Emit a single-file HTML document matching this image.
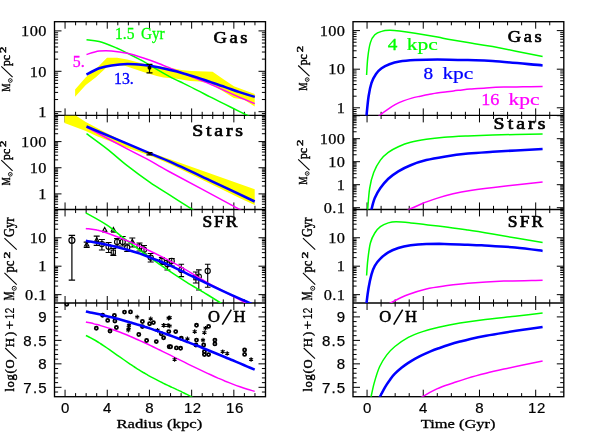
<!DOCTYPE html>
<html><head><meta charset="utf-8"><title>Chart</title>
<style>html,body{margin:0;padding:0;background:#fff}svg{display:block;will-change:transform}</style></head>
<body>
<svg width="598" height="447" viewBox="0 0 598 447">
<rect width="598" height="447" fill="#fff"/>
<defs>
<clipPath id="cL0"><rect x="54.5" y="21.7" width="211.0" height="93.7"/></clipPath>
<clipPath id="cL1"><rect x="54.5" y="115.4" width="211.0" height="94.04999999999998"/></clipPath>
<clipPath id="cL2"><rect x="54.5" y="209.45" width="211.0" height="93.55000000000001"/></clipPath>
<clipPath id="cL3"><rect x="54.5" y="303.0" width="211.0" height="93.69999999999999"/></clipPath>
<clipPath id="cR0"><rect x="353.0" y="21.7" width="210.79999999999995" height="93.7"/></clipPath>
<clipPath id="cR1"><rect x="353.0" y="115.4" width="210.79999999999995" height="94.04999999999998"/></clipPath>
<clipPath id="cR2"><rect x="353.0" y="209.45" width="210.79999999999995" height="93.55000000000001"/></clipPath>
<clipPath id="cR3"><rect x="353.0" y="303.0" width="210.79999999999995" height="93.69999999999999"/></clipPath>
</defs>
<path d="M54.5,111.70h7.0M265.5,111.70h-7.0M54.5,71.30h7.0M265.5,71.30h-7.0M54.5,30.90h7.0M265.5,30.90h-7.0M54.5,113.55h3.6M265.5,113.55h-3.6M54.5,99.54h3.6M265.5,99.54h-3.6M54.5,92.42h3.6M265.5,92.42h-3.6M54.5,87.38h3.6M265.5,87.38h-3.6M54.5,83.46h3.6M265.5,83.46h-3.6M54.5,80.26h3.6M265.5,80.26h-3.6M54.5,77.56h3.6M265.5,77.56h-3.6M54.5,75.22h3.6M265.5,75.22h-3.6M54.5,73.15h3.6M265.5,73.15h-3.6M54.5,59.14h3.6M265.5,59.14h-3.6M54.5,52.02h3.6M265.5,52.02h-3.6M54.5,46.98h3.6M265.5,46.98h-3.6M54.5,43.06h3.6M265.5,43.06h-3.6M54.5,39.86h3.6M265.5,39.86h-3.6M54.5,37.16h3.6M265.5,37.16h-3.6M54.5,34.82h3.6M265.5,34.82h-3.6M54.5,32.75h3.6M265.5,32.75h-3.6M54.5,193.90h7.0M265.5,193.90h-7.0M54.5,167.75h7.0M265.5,167.75h-7.0M54.5,141.60h7.0M265.5,141.60h-7.0M54.5,115.45h7.0M265.5,115.45h-7.0M54.5,207.57h3.6M265.5,207.57h-3.6M54.5,204.31h3.6M265.5,204.31h-3.6M54.5,201.77h3.6M265.5,201.77h-3.6M54.5,199.70h3.6M265.5,199.70h-3.6M54.5,197.95h3.6M265.5,197.95h-3.6M54.5,196.43h3.6M265.5,196.43h-3.6M54.5,195.10h3.6M265.5,195.10h-3.6M54.5,186.03h3.6M265.5,186.03h-3.6M54.5,181.42h3.6M265.5,181.42h-3.6M54.5,178.16h3.6M265.5,178.16h-3.6M54.5,175.62h3.6M265.5,175.62h-3.6M54.5,173.55h3.6M265.5,173.55h-3.6M54.5,171.80h3.6M265.5,171.80h-3.6M54.5,170.28h3.6M265.5,170.28h-3.6M54.5,168.95h3.6M265.5,168.95h-3.6M54.5,159.88h3.6M265.5,159.88h-3.6M54.5,155.27h3.6M265.5,155.27h-3.6M54.5,152.01h3.6M265.5,152.01h-3.6M54.5,149.47h3.6M265.5,149.47h-3.6M54.5,147.40h3.6M265.5,147.40h-3.6M54.5,145.65h3.6M265.5,145.65h-3.6M54.5,144.13h3.6M265.5,144.13h-3.6M54.5,142.80h3.6M265.5,142.80h-3.6M54.5,133.73h3.6M265.5,133.73h-3.6M54.5,129.12h3.6M265.5,129.12h-3.6M54.5,125.86h3.6M265.5,125.86h-3.6M54.5,123.32h3.6M265.5,123.32h-3.6M54.5,121.25h3.6M265.5,121.25h-3.6M54.5,119.50h3.6M265.5,119.50h-3.6M54.5,117.98h3.6M265.5,117.98h-3.6M54.5,116.65h3.6M265.5,116.65h-3.6M54.5,294.65h7.0M265.5,294.65h-7.0M54.5,266.20h7.0M265.5,266.20h-7.0M54.5,237.75h7.0M265.5,237.75h-7.0M54.5,300.96h3.6M265.5,300.96h-3.6M54.5,299.06h3.6M265.5,299.06h-3.6M54.5,297.41h3.6M265.5,297.41h-3.6M54.5,295.95h3.6M265.5,295.95h-3.6M54.5,286.09h3.6M265.5,286.09h-3.6M54.5,281.08h3.6M265.5,281.08h-3.6M54.5,277.52h3.6M265.5,277.52h-3.6M54.5,274.76h3.6M265.5,274.76h-3.6M54.5,272.51h3.6M265.5,272.51h-3.6M54.5,270.61h3.6M265.5,270.61h-3.6M54.5,268.96h3.6M265.5,268.96h-3.6M54.5,267.50h3.6M265.5,267.50h-3.6M54.5,257.64h3.6M265.5,257.64h-3.6M54.5,252.63h3.6M265.5,252.63h-3.6M54.5,249.07h3.6M265.5,249.07h-3.6M54.5,246.31h3.6M265.5,246.31h-3.6M54.5,244.06h3.6M265.5,244.06h-3.6M54.5,242.16h3.6M265.5,242.16h-3.6M54.5,240.51h3.6M265.5,240.51h-3.6M54.5,239.05h3.6M265.5,239.05h-3.6M54.5,229.19h3.6M265.5,229.19h-3.6M54.5,224.18h3.6M265.5,224.18h-3.6M54.5,220.62h3.6M265.5,220.62h-3.6M54.5,217.86h3.6M265.5,217.86h-3.6M54.5,215.61h3.6M265.5,215.61h-3.6M54.5,213.71h3.6M265.5,213.71h-3.6M54.5,212.06h3.6M265.5,212.06h-3.6M54.5,210.60h3.6M265.5,210.60h-3.6M54.5,387.32h7.0M265.5,387.32h-7.0M54.5,363.85h7.0M265.5,363.85h-7.0M54.5,340.38h7.0M265.5,340.38h-7.0M54.5,316.90h7.0M265.5,316.90h-7.0M54.5,392.02h3.6M265.5,392.02h-3.6M54.5,382.63h3.6M265.5,382.63h-3.6M54.5,377.93h3.6M265.5,377.93h-3.6M54.5,373.24h3.6M265.5,373.24h-3.6M54.5,368.54h3.6M265.5,368.54h-3.6M54.5,359.15h3.6M265.5,359.15h-3.6M54.5,354.46h3.6M265.5,354.46h-3.6M54.5,349.76h3.6M265.5,349.76h-3.6M54.5,345.07h3.6M265.5,345.07h-3.6M54.5,335.68h3.6M265.5,335.68h-3.6M54.5,330.99h3.6M265.5,330.99h-3.6M54.5,326.29h3.6M265.5,326.29h-3.6M54.5,321.59h3.6M265.5,321.59h-3.6M54.5,312.20h3.6M265.5,312.20h-3.6M54.5,307.51h3.6M265.5,307.51h-3.6M353.0,107.80h7.0M563.8,107.80h-7.0M353.0,69.20h7.0M563.8,69.20h-7.0M353.0,30.60h7.0M563.8,30.60h-7.0M353.0,113.78h3.6M563.8,113.78h-3.6M353.0,111.54h3.6M563.8,111.54h-3.6M353.0,109.57h3.6M563.8,109.57h-3.6M353.0,96.18h3.6M563.8,96.18h-3.6M353.0,89.38h3.6M563.8,89.38h-3.6M353.0,84.56h3.6M563.8,84.56h-3.6M353.0,80.82h3.6M563.8,80.82h-3.6M353.0,77.76h3.6M563.8,77.76h-3.6M353.0,75.18h3.6M563.8,75.18h-3.6M353.0,72.94h3.6M563.8,72.94h-3.6M353.0,70.97h3.6M563.8,70.97h-3.6M353.0,57.58h3.6M563.8,57.58h-3.6M353.0,50.78h3.6M563.8,50.78h-3.6M353.0,45.96h3.6M563.8,45.96h-3.6M353.0,42.22h3.6M563.8,42.22h-3.6M353.0,39.16h3.6M563.8,39.16h-3.6M353.0,36.58h3.6M563.8,36.58h-3.6M353.0,34.34h3.6M563.8,34.34h-3.6M353.0,32.37h3.6M563.8,32.37h-3.6M353.0,207.70h7.0M563.8,207.70h-7.0M353.0,184.70h7.0M563.8,184.70h-7.0M353.0,161.70h7.0M563.8,161.70h-7.0M353.0,138.70h7.0M563.8,138.70h-7.0M353.0,115.70h7.0M563.8,115.70h-7.0M353.0,208.75h3.6M563.8,208.75h-3.6M353.0,200.78h3.6M563.8,200.78h-3.6M353.0,196.73h3.6M563.8,196.73h-3.6M353.0,193.85h3.6M563.8,193.85h-3.6M353.0,191.62h3.6M563.8,191.62h-3.6M353.0,189.80h3.6M563.8,189.80h-3.6M353.0,188.26h3.6M563.8,188.26h-3.6M353.0,186.93h3.6M563.8,186.93h-3.6M353.0,185.75h3.6M563.8,185.75h-3.6M353.0,177.78h3.6M563.8,177.78h-3.6M353.0,173.73h3.6M563.8,173.73h-3.6M353.0,170.85h3.6M563.8,170.85h-3.6M353.0,168.62h3.6M563.8,168.62h-3.6M353.0,166.80h3.6M563.8,166.80h-3.6M353.0,165.26h3.6M563.8,165.26h-3.6M353.0,163.93h3.6M563.8,163.93h-3.6M353.0,162.75h3.6M563.8,162.75h-3.6M353.0,154.78h3.6M563.8,154.78h-3.6M353.0,150.73h3.6M563.8,150.73h-3.6M353.0,147.85h3.6M563.8,147.85h-3.6M353.0,145.62h3.6M563.8,145.62h-3.6M353.0,143.80h3.6M563.8,143.80h-3.6M353.0,142.26h3.6M563.8,142.26h-3.6M353.0,140.93h3.6M563.8,140.93h-3.6M353.0,139.75h3.6M563.8,139.75h-3.6M353.0,131.78h3.6M563.8,131.78h-3.6M353.0,127.73h3.6M563.8,127.73h-3.6M353.0,124.85h3.6M563.8,124.85h-3.6M353.0,122.62h3.6M563.8,122.62h-3.6M353.0,120.80h3.6M563.8,120.80h-3.6M353.0,119.26h3.6M563.8,119.26h-3.6M353.0,117.93h3.6M563.8,117.93h-3.6M353.0,116.75h3.6M563.8,116.75h-3.6M353.0,294.65h7.0M563.8,294.65h-7.0M353.0,266.20h7.0M563.8,266.20h-7.0M353.0,237.75h7.0M563.8,237.75h-7.0M353.0,300.96h3.6M563.8,300.96h-3.6M353.0,299.06h3.6M563.8,299.06h-3.6M353.0,297.41h3.6M563.8,297.41h-3.6M353.0,295.95h3.6M563.8,295.95h-3.6M353.0,286.09h3.6M563.8,286.09h-3.6M353.0,281.08h3.6M563.8,281.08h-3.6M353.0,277.52h3.6M563.8,277.52h-3.6M353.0,274.76h3.6M563.8,274.76h-3.6M353.0,272.51h3.6M563.8,272.51h-3.6M353.0,270.61h3.6M563.8,270.61h-3.6M353.0,268.96h3.6M563.8,268.96h-3.6M353.0,267.50h3.6M563.8,267.50h-3.6M353.0,257.64h3.6M563.8,257.64h-3.6M353.0,252.63h3.6M563.8,252.63h-3.6M353.0,249.07h3.6M563.8,249.07h-3.6M353.0,246.31h3.6M563.8,246.31h-3.6M353.0,244.06h3.6M563.8,244.06h-3.6M353.0,242.16h3.6M563.8,242.16h-3.6M353.0,240.51h3.6M563.8,240.51h-3.6M353.0,239.05h3.6M563.8,239.05h-3.6M353.0,229.19h3.6M563.8,229.19h-3.6M353.0,224.18h3.6M563.8,224.18h-3.6M353.0,220.62h3.6M563.8,220.62h-3.6M353.0,217.86h3.6M563.8,217.86h-3.6M353.0,215.61h3.6M563.8,215.61h-3.6M353.0,213.71h3.6M563.8,213.71h-3.6M353.0,212.06h3.6M563.8,212.06h-3.6M353.0,210.60h3.6M563.8,210.60h-3.6M353.0,387.32h7.0M563.8,387.32h-7.0M353.0,363.85h7.0M563.8,363.85h-7.0M353.0,340.38h7.0M563.8,340.38h-7.0M353.0,316.90h7.0M563.8,316.90h-7.0M353.0,392.02h3.6M563.8,392.02h-3.6M353.0,382.63h3.6M563.8,382.63h-3.6M353.0,377.93h3.6M563.8,377.93h-3.6M353.0,373.24h3.6M563.8,373.24h-3.6M353.0,368.54h3.6M563.8,368.54h-3.6M353.0,359.15h3.6M563.8,359.15h-3.6M353.0,354.46h3.6M563.8,354.46h-3.6M353.0,349.76h3.6M563.8,349.76h-3.6M353.0,345.07h3.6M563.8,345.07h-3.6M353.0,335.68h3.6M563.8,335.68h-3.6M353.0,330.99h3.6M563.8,330.99h-3.6M353.0,326.29h3.6M563.8,326.29h-3.6M353.0,321.59h3.6M563.8,321.59h-3.6M353.0,312.20h3.6M563.8,312.20h-3.6M353.0,307.51h3.6M563.8,307.51h-3.6M65.05,21.7v7.0M65.05,108.4v14.0M65.05,202.45v14.0M65.05,296.0v14.0M65.05,396.7v-7.0M75.60,21.7v3.6M75.60,111.80000000000001v7.2M75.60,205.85v7.2M75.60,299.4v7.2M75.60,396.7v-3.6M86.15,21.7v3.6M86.15,111.80000000000001v7.2M86.15,205.85v7.2M86.15,299.4v7.2M86.15,396.7v-3.6M96.70,21.7v3.6M96.70,111.80000000000001v7.2M96.70,205.85v7.2M96.70,299.4v7.2M96.70,396.7v-3.6M107.25,21.7v7.0M107.25,108.4v14.0M107.25,202.45v14.0M107.25,296.0v14.0M107.25,396.7v-7.0M117.80,21.7v3.6M117.80,111.80000000000001v7.2M117.80,205.85v7.2M117.80,299.4v7.2M117.80,396.7v-3.6M128.35,21.7v3.6M128.35,111.80000000000001v7.2M128.35,205.85v7.2M128.35,299.4v7.2M128.35,396.7v-3.6M138.90,21.7v3.6M138.90,111.80000000000001v7.2M138.90,205.85v7.2M138.90,299.4v7.2M138.90,396.7v-3.6M149.45,21.7v7.0M149.45,108.4v14.0M149.45,202.45v14.0M149.45,296.0v14.0M149.45,396.7v-7.0M160.00,21.7v3.6M160.00,111.80000000000001v7.2M160.00,205.85v7.2M160.00,299.4v7.2M160.00,396.7v-3.6M170.55,21.7v3.6M170.55,111.80000000000001v7.2M170.55,205.85v7.2M170.55,299.4v7.2M170.55,396.7v-3.6M181.10,21.7v3.6M181.10,111.80000000000001v7.2M181.10,205.85v7.2M181.10,299.4v7.2M181.10,396.7v-3.6M191.65,21.7v7.0M191.65,108.4v14.0M191.65,202.45v14.0M191.65,296.0v14.0M191.65,396.7v-7.0M202.20,21.7v3.6M202.20,111.80000000000001v7.2M202.20,205.85v7.2M202.20,299.4v7.2M202.20,396.7v-3.6M212.75,21.7v3.6M212.75,111.80000000000001v7.2M212.75,205.85v7.2M212.75,299.4v7.2M212.75,396.7v-3.6M223.30,21.7v3.6M223.30,111.80000000000001v7.2M223.30,205.85v7.2M223.30,299.4v7.2M223.30,396.7v-3.6M233.85,21.7v7.0M233.85,108.4v14.0M233.85,202.45v14.0M233.85,296.0v14.0M233.85,396.7v-7.0M244.40,21.7v3.6M244.40,111.80000000000001v7.2M244.40,205.85v7.2M244.40,299.4v7.2M244.40,396.7v-3.6M254.95,21.7v3.6M254.95,111.80000000000001v7.2M254.95,205.85v7.2M254.95,299.4v7.2M254.95,396.7v-3.6M367.05,21.7v7.0M367.05,108.4v14.0M367.05,202.45v14.0M367.05,296.0v14.0M367.05,396.7v-7.0M381.10,21.7v3.6M381.10,111.80000000000001v7.2M381.10,205.85v7.2M381.10,299.4v7.2M381.10,396.7v-3.6M395.16,21.7v3.6M395.16,111.80000000000001v7.2M395.16,205.85v7.2M395.16,299.4v7.2M395.16,396.7v-3.6M409.21,21.7v3.6M409.21,111.80000000000001v7.2M409.21,205.85v7.2M409.21,299.4v7.2M409.21,396.7v-3.6M423.26,21.7v7.0M423.26,108.4v14.0M423.26,202.45v14.0M423.26,296.0v14.0M423.26,396.7v-7.0M437.31,21.7v3.6M437.31,111.80000000000001v7.2M437.31,205.85v7.2M437.31,299.4v7.2M437.31,396.7v-3.6M451.37,21.7v3.6M451.37,111.80000000000001v7.2M451.37,205.85v7.2M451.37,299.4v7.2M451.37,396.7v-3.6M465.42,21.7v3.6M465.42,111.80000000000001v7.2M465.42,205.85v7.2M465.42,299.4v7.2M465.42,396.7v-3.6M479.47,21.7v7.0M479.47,108.4v14.0M479.47,202.45v14.0M479.47,296.0v14.0M479.47,396.7v-7.0M493.53,21.7v3.6M493.53,111.80000000000001v7.2M493.53,205.85v7.2M493.53,299.4v7.2M493.53,396.7v-3.6M507.58,21.7v3.6M507.58,111.80000000000001v7.2M507.58,205.85v7.2M507.58,299.4v7.2M507.58,396.7v-3.6M521.63,21.7v3.6M521.63,111.80000000000001v7.2M521.63,205.85v7.2M521.63,299.4v7.2M521.63,396.7v-3.6M535.69,21.7v7.0M535.69,108.4v14.0M535.69,202.45v14.0M535.69,296.0v14.0M535.69,396.7v-7.0M549.74,21.7v3.6M549.74,111.80000000000001v7.2M549.74,205.85v7.2M549.74,299.4v7.2M549.74,396.7v-3.6" stroke="#000" stroke-width="1.0" fill="none"/>
<rect x="54.5" y="21.7" width="211.0" height="375.0" fill="none" stroke="#000" stroke-width="1.35"/>
<path d="M54.5,115.4H265.5" stroke="#000" stroke-width="1.35"/>
<path d="M54.5,209.45H265.5" stroke="#000" stroke-width="1.35"/>
<path d="M54.5,303.0H265.5" stroke="#000" stroke-width="1.35"/>
<rect x="353.0" y="21.7" width="210.79999999999995" height="375.0" fill="none" stroke="#000" stroke-width="1.35"/>
<path d="M353.0,115.4H563.8" stroke="#000" stroke-width="1.35"/>
<path d="M353.0,209.45H563.8" stroke="#000" stroke-width="1.35"/>
<path d="M353.0,303.0H563.8" stroke="#000" stroke-width="1.35"/>
<polygon points="75.1,89.6 85.8,77.3 95.9,69.0 107.0,57.8 117.1,57.8 127.2,59.4 139.5,62.7 149.6,65.0 160.0,66.5 170.1,67.7 181.3,69.9 191.4,71.0 212.6,71.7 223.8,79.5 233.9,86.2 254.7,94.1 254.7,106.4 244.0,99.7 233.9,98.1 223.8,91.8 212.6,85.1 210.0,83.4 199.6,81.4 190.2,81.0 176.8,78.8 163.4,77.4 156.8,76.0 143.4,72.0 130.0,67.4 124.0,65.5 117.0,65.5 107.0,67.0 95.9,77.3 85.8,85.1 75.1,96.7" fill="#ffff00" clip-path="url(#cL0)"/>
<path d="M86.5,39.7 C88.6,40.0 94.1,40.1 99.2,41.5 C104.3,42.9 112.4,46.3 117.1,48.2 C121.8,50.1 123.5,51.2 127.2,53.1 C130.9,55.0 136.8,58.0 139.5,59.4 C142.2,60.8 140.5,59.7 143.4,61.4 C146.3,63.1 152.4,66.8 156.8,69.4 C161.2,72.0 165.7,74.5 170.1,76.8 C174.5,79.1 179.0,81.2 183.5,83.4 C188.0,85.6 192.5,87.8 196.9,90.1 C201.3,92.3 205.4,94.5 210.1,96.9 C214.8,99.3 220.2,101.9 225.2,104.4 C230.2,106.9 236.1,109.9 240.2,111.9 C244.3,113.9 248.1,115.7 249.7,116.4" fill="none" stroke="#00ff00" stroke-width="1.5" stroke-linejoin="round" clip-path="url(#cL0)"/>
<path d="M86.5,54.5 C88.6,53.9 95.0,51.7 99.2,51.1 C103.4,50.5 106.8,50.5 111.5,50.9 C116.2,51.3 121.9,52.1 127.2,53.3 C132.5,54.5 138.5,56.4 143.4,58.0 C148.3,59.6 152.4,61.0 156.8,62.7 C161.2,64.4 165.7,66.3 170.1,68.1 C174.5,69.9 179.0,71.6 183.5,73.4 C188.0,75.2 192.5,77.0 196.9,78.8 C201.3,80.6 205.4,82.1 210.1,84.1 C214.8,86.1 220.2,88.7 225.2,90.9 C230.2,93.2 235.3,95.5 240.2,97.6 C245.1,99.7 252.4,102.6 254.8,103.6" fill="none" stroke="#ff00ff" stroke-width="1.5" stroke-linejoin="round" clip-path="url(#cL0)"/>
<path d="M86.5,74.6 C88.6,73.5 95.0,69.8 99.2,68.3 C103.4,66.8 106.8,66.1 111.5,65.4 C116.2,64.7 121.9,64.1 127.2,64.0 C132.5,63.9 138.5,64.5 143.4,65.0 C148.3,65.5 152.4,66.2 156.8,67.1 C161.2,67.9 165.7,69.0 170.1,70.1 C174.5,71.1 179.0,72.2 183.5,73.4 C188.0,74.6 192.5,76.0 196.9,77.4 C201.3,78.8 205.4,80.3 210.1,81.9 C214.8,83.5 220.2,85.3 225.2,87.1 C230.2,88.8 235.3,90.8 240.2,92.4 C245.1,94.0 252.4,96.2 254.8,96.9" fill="none" stroke="#0000ff" stroke-width="2.55" stroke-linejoin="round" clip-path="url(#cL0)"/>
<g stroke="#000" stroke-width="1.2" fill="none"><path d="M149.5,64.3V72.8M146.5,64.3h6M146.5,72.8h6"/></g><circle cx="149.5" cy="67.8" r="2" fill="#000"/>
<polygon points="64.5,115.4 75.7,115.4 85.8,122.1 107.0,133.3 127.2,143.3 149.6,152.3 170.0,159.3 254.7,189.2 254.7,205.0 239.5,198.1 169.9,163.9 149.6,155.6 127.2,147.8 97.0,136.2 85.8,131.0 64.5,122.9" fill="#ffff00" clip-path="url(#cL1)"/>
<path d="M86.5,133.7 C89.9,136.2 100.2,143.6 107.0,148.9 C113.8,154.2 120.1,160.1 127.2,165.7 C134.3,171.2 142.5,177.3 149.6,182.2 C156.7,187.1 162.8,190.7 169.9,195.2 C177.0,199.7 186.9,206.1 191.9,209.2 C196.9,212.3 198.7,213.2 200.0,214.0" fill="none" stroke="#00ff00" stroke-width="1.5" stroke-linejoin="round" clip-path="url(#cL1)"/>
<path d="M86.5,127.2 C93.3,130.8 116.6,143.3 127.2,148.9 C137.8,154.5 142.9,156.8 150.0,160.6 C157.1,164.4 155.0,163.9 169.9,172.0 C184.8,180.1 227.0,202.6 239.5,209.3 C252.0,216.0 244.1,211.8 245.0,212.3" fill="none" stroke="#ff00ff" stroke-width="1.5" stroke-linejoin="round" clip-path="url(#cL1)"/>
<path d="M86.5,126.5 C97.1,131.0 136.1,147.5 150.0,153.4 C163.9,159.3 159.6,157.0 169.9,161.7 C180.2,166.3 197.9,174.7 212.0,181.3 C226.1,187.9 247.6,198.1 254.7,201.5" fill="none" stroke="#0000ff" stroke-width="2.55" stroke-linejoin="round" clip-path="url(#cL1)"/>
<g stroke="#000" stroke-width="1.2" fill="none"><path d="M146.5,152.6h6M146.5,154.8h6M149.5,152.6v2.2"/></g><circle cx="149.5" cy="153.6" r="1.3" fill="#000"/>
<path d="M71.9,235.3V280.2M68.7,235.3h6.4M68.7,280.2h6.4" stroke="#000" stroke-width="1.2" fill="none"/>
<circle cx="71.9" cy="240.3" r="3.0" fill="none" stroke="#000" stroke-width="1.2"/>
<path d="M86.7,242.20000000000002L88.8,245.98000000000002H84.60000000000001Z" fill="none" stroke="#000" stroke-width="1.1"/>
<path d="M86.7,242.1V247.4M83.7,242.1h6M83.7,247.4h6" stroke="#000" stroke-width="1.1" fill="none"/>
<path d="M96.7,237.6L98.8,241.38H94.60000000000001Z" fill="none" stroke="#000" stroke-width="1.1"/>
<path d="M96.7,236.1V245.4M93.7,236.1h6M93.7,245.4h6" stroke="#000" stroke-width="1.1" fill="none"/>
<path d="M104.7,227.5L106.8,231.28H102.60000000000001Z" fill="none" stroke="#000" stroke-width="1.1"/>
<path d="M113.4,227.5L115.5,231.28H111.30000000000001Z" fill="none" stroke="#000" stroke-width="1.1"/>
<path d="M102.2,232h5M111,232.2h5" stroke="#000" stroke-width="1"/>
<circle cx="101.9" cy="244.1" r="2.6" fill="none" stroke="#000" stroke-width="1.1"/>
<path d="M101.9,239.5V250M98.9,239.5h6M98.9,250h6" stroke="#000" stroke-width="1.1" fill="none"/>
<circle cx="108.6" cy="246.8" r="2.6" fill="none" stroke="#000" stroke-width="1.1"/>
<path d="M108.6,242.5V252.5M105.6,242.5h6M105.6,252.5h6" stroke="#000" stroke-width="1.1" fill="none"/>
<rect x="111.2" y="250.1" width="4.2" height="4.2" fill="none" stroke="#000" stroke-width="1.1"/>
<path d="M113.3,248.5V255.5M110.3,248.5h6M110.3,255.5h6" stroke="#000" stroke-width="1.1" fill="none"/>
<circle cx="117.1" cy="241.9" r="2.6" fill="none" stroke="#000" stroke-width="1.1"/>
<path d="M117.1,238.5V246M114.1,238.5h6M114.1,246h6" stroke="#000" stroke-width="1.1" fill="none"/>
<circle cx="122.7" cy="241.9" r="2.6" fill="none" stroke="#000" stroke-width="1.1"/>
<path d="M122.7,236.5V246M119.7,236.5h6M119.7,246h6" stroke="#000" stroke-width="1.1" fill="none"/>
<circle cx="127.2" cy="247.5" r="2.6" fill="none" stroke="#000" stroke-width="1.1"/>
<path d="M127.2,244V251.5M124.2,244h6M124.2,251.5h6" stroke="#000" stroke-width="1.1" fill="none"/>
<path d="M132.3,239.3L134.4,243.08H130.20000000000002Z" fill="none" stroke="#000" stroke-width="1.1"/>
<path d="M132.3,238V247M129.3,238h6M129.3,247h6" stroke="#000" stroke-width="1.1" fill="none"/>
<circle cx="139.5" cy="246.4" r="2.6" fill="none" stroke="#000" stroke-width="1.1"/>
<path d="M139.5,243V251M136.5,243h6M136.5,251h6" stroke="#000" stroke-width="1.1" fill="none"/>
<circle cx="144" cy="249.7" r="2.6" fill="none" stroke="#000" stroke-width="1.1"/>
<path d="M144,245.5V254M141,245.5h6M141,254h6" stroke="#000" stroke-width="1.1" fill="none"/>
<circle cx="150.7" cy="257.6" r="2.6" fill="none" stroke="#000" stroke-width="1.1"/>
<path d="M150.7,253.5V262M147.7,253.5h6M147.7,262h6" stroke="#000" stroke-width="1.1" fill="none"/>
<circle cx="161.9" cy="260.9" r="2.6" fill="none" stroke="#000" stroke-width="1.1"/>
<path d="M161.9,257.5V264.5M158.9,257.5h6M158.9,264.5h6" stroke="#000" stroke-width="1.1" fill="none"/>
<circle cx="167.4" cy="264.3" r="2.6" fill="none" stroke="#000" stroke-width="1.1"/>
<path d="M167.4,260.5V270M164.4,260.5h6M164.4,270h6" stroke="#000" stroke-width="1.1" fill="none"/>
<circle cx="171.7" cy="260.9" r="2.6" fill="none" stroke="#000" stroke-width="1.1"/>
<path d="M171.7,258.5V266M168.7,258.5h6M168.7,266h6" stroke="#000" stroke-width="1.1" fill="none"/>
<circle cx="181.3" cy="269.9" r="2.6" fill="none" stroke="#000" stroke-width="1.1"/>
<path d="M181.3,264.3V276.6M178.5,264.3h5.6M178.5,276.6h5.6" stroke="#000" stroke-width="1.1" fill="none"/>
<rect x="193.8" y="275.59999999999997" width="4.2" height="4.2" fill="none" stroke="#000" stroke-width="1.1"/>
<path d="M195.9,272V283M192.9,272h6M192.9,283h6" stroke="#000" stroke-width="1.1" fill="none"/>
<circle cx="198.8" cy="276.6" r="2.6" fill="none" stroke="#000" stroke-width="1.1"/>
<path d="M198.8,269.9V290M196.0,269.9h5.6M196.0,290h5.6" stroke="#000" stroke-width="1.1" fill="none"/>
<circle cx="207.7" cy="271" r="2.6" fill="none" stroke="#000" stroke-width="1.1"/>
<path d="M207.7,264.3V287.3M204.89999999999998,264.3h5.6M204.89999999999998,287.3h5.6" stroke="#000" stroke-width="1.1" fill="none"/>
<path d="M85.8,212.8 C89.3,214.9 100.1,220.4 107.0,225.1 C113.9,229.8 120.0,235.4 127.2,240.8 C134.4,246.2 143.1,252.6 150.0,257.5 C156.9,262.4 162.3,266.3 168.4,270.4 C174.5,274.5 180.7,278.5 186.8,282.3 C192.9,286.1 199.7,289.9 205.2,293.3 C210.7,296.7 216.6,300.4 219.9,302.5 C223.2,304.6 224.2,305.1 225.0,305.6" fill="none" stroke="#00ff00" stroke-width="1.5" stroke-linejoin="round" clip-path="url(#cL2)"/>
<path d="M85.8,228.5 C87.7,228.8 93.5,229.3 97.0,230.1 C100.5,230.8 102.0,231.2 107.0,233.0 C112.0,234.8 120.0,237.8 127.2,240.8 C134.4,243.8 143.1,247.8 150.0,251.0 C156.9,254.2 162.3,257.0 168.4,260.2 C174.5,263.4 180.7,266.9 186.8,270.4 C192.9,273.9 198.8,277.8 205.2,281.4 C211.6,285.0 218.2,288.4 225.0,292.0 C231.8,295.6 241.4,300.6 245.7,302.9 C250.0,305.2 250.1,305.2 251.0,305.7" fill="none" stroke="#ff00ff" stroke-width="1.5" stroke-linejoin="round" clip-path="url(#cL2)"/>
<path d="M85.8,240.8 C89.3,241.5 100.1,243.3 107.0,244.8 C113.9,246.3 121.7,248.2 127.2,249.7 C132.7,251.2 136.2,252.3 140.0,253.6 C143.8,254.9 145.3,255.6 150.0,257.5 C154.7,259.4 162.3,262.1 168.4,264.8 C174.5,267.5 180.7,270.6 186.8,273.6 C192.9,276.6 199.1,279.7 205.2,282.6 C211.3,285.6 217.5,288.5 223.6,291.3 C229.7,294.1 237.7,297.7 242.0,299.6 C246.3,301.5 247.0,301.8 249.3,302.9 C251.6,304.0 254.9,305.5 256.0,306.0" fill="none" stroke="#0000ff" stroke-width="2.55" stroke-linejoin="round" clip-path="url(#cL2)"/>
<path d="M85.9,335.5 C86.7,335.9 89.1,337.0 90.7,337.8 C92.3,338.7 93.9,339.6 95.5,340.5 C97.1,341.4 98.7,342.4 100.3,343.5 C101.9,344.5 103.5,345.6 105.0,346.6 C106.6,347.7 108.2,348.8 109.8,349.9 C111.4,351.0 113.0,352.2 114.6,353.3 C116.2,354.4 117.8,355.5 119.4,356.7 C121.0,357.8 122.6,358.9 124.2,360.0 C125.8,361.1 127.4,362.2 129.0,363.3 C130.6,364.4 132.2,365.4 133.8,366.5 C135.4,367.5 137.0,368.6 138.6,369.6 C140.2,370.6 141.7,371.5 143.3,372.5 C144.9,373.4 146.5,374.4 148.1,375.3 C149.7,376.2 151.3,377.1 152.9,377.9 C154.5,378.8 156.1,379.6 157.7,380.4 C159.3,381.3 160.9,382.1 162.5,382.8 C164.1,383.6 165.7,384.4 167.3,385.1 C168.9,385.9 170.5,386.6 172.1,387.4 C173.7,388.1 175.3,388.8 176.9,389.6 C178.4,390.3 180.0,391.1 181.6,391.8 C183.2,392.6 184.8,393.3 186.4,394.1 C188.0,394.9 189.6,395.7 191.2,396.6 C192.8,397.4 195.2,398.8 196.0,399.2" fill="none" stroke="#00ff00" stroke-width="1.5" stroke-linejoin="round" clip-path="url(#cL3)"/>
<path d="M85.9,322.0 C87.1,322.3 90.8,323.0 93.2,323.6 C95.7,324.3 98.1,324.9 100.6,325.6 C103.0,326.3 105.5,327.1 107.9,327.9 C110.4,328.7 112.8,329.6 115.3,330.5 C117.7,331.4 120.1,332.3 122.6,333.3 C125.0,334.2 127.5,335.2 129.9,336.3 C132.4,337.3 134.8,338.4 137.3,339.5 C139.7,340.6 142.2,341.7 144.6,342.8 C147.1,343.9 149.5,345.1 152.0,346.3 C154.4,347.4 156.8,348.6 159.3,349.8 C161.7,351.0 164.2,352.2 166.6,353.4 C169.1,354.6 171.5,355.8 174.0,357.1 C176.4,358.3 178.9,359.5 181.3,360.7 C183.8,361.9 186.2,363.1 188.6,364.3 C191.1,365.5 193.5,366.7 196.0,367.9 C198.4,369.1 200.9,370.3 203.3,371.4 C205.8,372.6 208.2,373.7 210.7,374.8 C213.1,375.9 215.6,377.0 218.0,378.1 C220.5,379.1 222.9,380.1 225.3,381.2 C227.8,382.2 230.2,383.1 232.7,384.1 C235.1,385.0 237.6,385.9 240.0,386.7 C242.5,387.6 244.9,388.4 247.4,389.2 C249.8,390.0 253.5,391.0 254.7,391.4" fill="none" stroke="#ff00ff" stroke-width="1.5" stroke-linejoin="round" clip-path="url(#cL3)"/>
<g clip-path="url(#cL3)">
<circle cx="66.8" cy="304.3" r="1.55" fill="#fff" stroke="#000" stroke-width="1.8"/>
<circle cx="96.3" cy="328.2" r="1.55" fill="#fff" stroke="#000" stroke-width="1.8"/>
<circle cx="102.6" cy="315.2" r="1.55" fill="#fff" stroke="#000" stroke-width="1.8"/>
<circle cx="107.7" cy="320.4" r="1.55" fill="#fff" stroke="#000" stroke-width="1.8"/>
<circle cx="110" cy="331.1" r="1.55" fill="#fff" stroke="#000" stroke-width="1.8"/>
<circle cx="114.4" cy="315.4" r="1.55" fill="#fff" stroke="#000" stroke-width="1.8"/>
<circle cx="114.9" cy="321" r="1.55" fill="#fff" stroke="#000" stroke-width="1.8"/>
<circle cx="116.4" cy="327.5" r="1.55" fill="#fff" stroke="#000" stroke-width="1.8"/>
<circle cx="124.5" cy="312.1" r="1.55" fill="#fff" stroke="#000" stroke-width="1.8"/>
<circle cx="130.5" cy="311.9" r="1.55" fill="#fff" stroke="#000" stroke-width="1.8"/>
<circle cx="138.8" cy="334.5" r="1.55" fill="#fff" stroke="#000" stroke-width="1.8"/>
<circle cx="142.4" cy="321.5" r="1.55" fill="#fff" stroke="#000" stroke-width="1.8"/>
<circle cx="142.4" cy="326.6" r="1.55" fill="#fff" stroke="#000" stroke-width="1.8"/>
<circle cx="146.6" cy="340.5" r="1.55" fill="#fff" stroke="#000" stroke-width="1.8"/>
<circle cx="149.6" cy="323.7" r="1.55" fill="#fff" stroke="#000" stroke-width="1.8"/>
<circle cx="153.4" cy="322.6" r="1.55" fill="#fff" stroke="#000" stroke-width="1.8"/>
<circle cx="156.3" cy="341.6" r="1.55" fill="#fff" stroke="#000" stroke-width="1.8"/>
<circle cx="161.2" cy="333.8" r="1.55" fill="#fff" stroke="#000" stroke-width="1.8"/>
<circle cx="163.6" cy="337.8" r="1.55" fill="#fff" stroke="#000" stroke-width="1.8"/>
<circle cx="168.8" cy="331.6" r="1.55" fill="#fff" stroke="#000" stroke-width="1.8"/>
<circle cx="169.2" cy="346.8" r="1.55" fill="#fff" stroke="#000" stroke-width="1.8"/>
<circle cx="170.6" cy="346.8" r="1.55" fill="#fff" stroke="#000" stroke-width="1.8"/>
<circle cx="175.7" cy="331.6" r="1.55" fill="#fff" stroke="#000" stroke-width="1.8"/>
<circle cx="176.4" cy="347.9" r="1.55" fill="#fff" stroke="#000" stroke-width="1.8"/>
<circle cx="180.6" cy="348.3" r="1.55" fill="#fff" stroke="#000" stroke-width="1.8"/>
<circle cx="181.3" cy="338.3" r="1.55" fill="#fff" stroke="#000" stroke-width="1.8"/>
<circle cx="196.5" cy="325.3" r="1.55" fill="#fff" stroke="#000" stroke-width="1.8"/>
<circle cx="196.5" cy="340.1" r="1.55" fill="#fff" stroke="#000" stroke-width="1.8"/>
<circle cx="195.9" cy="345" r="1.55" fill="#fff" stroke="#000" stroke-width="1.8"/>
<circle cx="203.7" cy="345" r="1.55" fill="#fff" stroke="#000" stroke-width="1.8"/>
<circle cx="204.4" cy="351.7" r="1.55" fill="#fff" stroke="#000" stroke-width="1.8"/>
<circle cx="204.4" cy="354.6" r="1.55" fill="#fff" stroke="#000" stroke-width="1.8"/>
<circle cx="208.6" cy="354.6" r="1.55" fill="#fff" stroke="#000" stroke-width="1.8"/>
<circle cx="208.6" cy="326.4" r="1.55" fill="#fff" stroke="#000" stroke-width="1.8"/>
<circle cx="214.9" cy="340.1" r="1.55" fill="#fff" stroke="#000" stroke-width="1.8"/>
<circle cx="214.9" cy="343.9" r="1.55" fill="#fff" stroke="#000" stroke-width="1.8"/>
<circle cx="244.6" cy="349.9" r="1.55" fill="#fff" stroke="#000" stroke-width="1.8"/>
<circle cx="244.6" cy="354.4" r="1.55" fill="#fff" stroke="#000" stroke-width="1.8"/>
<path d="M129.0,322.9L129.0,327.5M131.0,324.1L127.0,326.3M131.0,326.3L127.0,324.1" stroke="#000" stroke-width="1.1" fill="none"/>
<path d="M128.7,325.4L128.7,330.0M130.7,326.6L126.7,328.8M130.7,328.8L126.7,326.6" stroke="#000" stroke-width="1.1" fill="none"/>
<path d="M128.3,327.9L128.3,332.5M130.3,329.1L126.3,331.3M130.3,331.3L126.3,329.1" stroke="#000" stroke-width="1.1" fill="none"/>
<path d="M157.5,327.9L157.5,332.5M159.5,329.1L155.5,331.3M159.5,331.3L155.5,329.1" stroke="#000" stroke-width="1.1" fill="none"/>
<path d="M137.2,314.7L137.2,319.3M139.2,315.9L135.2,318.1M139.2,318.1L135.2,315.9" stroke="#000" stroke-width="1.1" fill="none"/>
<path d="M150.7,316.5L150.7,321.1M152.7,317.7L148.7,319.9M152.7,319.9L148.7,317.7" stroke="#000" stroke-width="1.1" fill="none"/>
<path d="M163.6,323.0L163.6,327.6M165.6,324.2L161.6,326.4M165.6,326.4L161.6,324.2" stroke="#000" stroke-width="1.1" fill="none"/>
<path d="M168.1,323.0L168.1,327.6M170.1,324.2L166.1,326.4M170.1,326.4L166.1,324.2" stroke="#000" stroke-width="1.1" fill="none"/>
<path d="M168.6,315.8L168.6,320.4M170.6,317.0L166.6,319.2M170.6,319.2L166.6,317.0" stroke="#000" stroke-width="1.1" fill="none"/>
<path d="M163.9,323.0L163.9,327.6M165.9,324.2L161.9,326.4M165.9,326.4L161.9,324.2" stroke="#000" stroke-width="1.1" fill="none"/>
<path d="M169.7,315.4L169.7,320.0M171.7,316.6L167.7,318.8M171.7,318.8L167.7,316.6" stroke="#000" stroke-width="1.1" fill="none"/>
<path d="M169.7,323.7L169.7,328.3M171.7,324.9L167.7,327.1M171.7,327.1L167.7,324.9" stroke="#000" stroke-width="1.1" fill="none"/>
<path d="M174.6,357.2L174.6,361.8M176.6,358.4L172.6,360.6M176.6,360.6L172.6,358.4" stroke="#000" stroke-width="1.1" fill="none"/>
<path d="M187.4,336.6L187.4,341.2M189.4,337.8L185.4,340.0M189.4,340.0L185.4,337.8" stroke="#000" stroke-width="1.1" fill="none"/>
<path d="M194.7,329.3L194.7,333.9M196.7,330.5L192.7,332.8M196.7,332.8L192.7,330.5" stroke="#000" stroke-width="1.1" fill="none"/>
<path d="M203.0,337.8L203.0,342.4M205.0,339.0L201.0,341.2M205.0,341.2L201.0,339.0" stroke="#000" stroke-width="1.1" fill="none"/>
<path d="M204.4,330.4L204.4,335.0M206.4,331.6L202.4,333.8M206.4,333.8L202.4,331.6" stroke="#000" stroke-width="1.1" fill="none"/>
<path d="M205.5,325.9L205.5,330.5M207.5,327.1L203.5,329.3M207.5,329.3L203.5,327.1" stroke="#000" stroke-width="1.1" fill="none"/>
<path d="M222.7,349.4L222.7,354.0M224.7,350.6L220.7,352.8M224.7,352.8L220.7,350.6" stroke="#000" stroke-width="1.1" fill="none"/>
<path d="M227.2,351.2L227.2,355.8M229.2,352.4L225.2,354.6M229.2,354.6L225.2,352.4" stroke="#000" stroke-width="1.1" fill="none"/>
<path d="M251.1,357.2L251.1,361.8M253.1,358.4L249.1,360.6M253.1,360.6L249.1,358.4" stroke="#000" stroke-width="1.1" fill="none"/>
</g>
<path d="M85.9,311.6 C87.1,311.9 90.8,312.6 93.2,313.1 C95.7,313.6 98.1,314.1 100.6,314.6 C103.0,315.2 105.5,315.8 107.9,316.4 C110.4,317.0 112.8,317.6 115.3,318.2 C117.7,318.8 120.1,319.5 122.6,320.2 C125.0,320.9 127.5,321.5 129.9,322.3 C132.4,323.0 134.8,323.7 137.3,324.5 C139.7,325.2 142.2,326.0 144.6,326.8 C147.1,327.5 149.5,328.3 152.0,329.1 C154.4,330.0 156.8,330.8 159.3,331.6 C161.7,332.5 164.2,333.3 166.6,334.2 C169.1,335.1 171.5,336.0 174.0,336.9 C176.4,337.8 178.9,338.7 181.3,339.6 C183.8,340.5 186.2,341.5 188.6,342.4 C191.1,343.3 193.5,344.3 196.0,345.3 C198.4,346.2 200.9,347.2 203.3,348.2 C205.8,349.2 208.2,350.2 210.7,351.2 C213.1,352.2 215.6,353.2 218.0,354.2 C220.5,355.2 222.9,356.2 225.3,357.2 C227.8,358.2 230.2,359.3 232.7,360.3 C235.1,361.3 237.6,362.4 240.0,363.4 C242.5,364.5 244.9,365.5 247.4,366.6 C249.8,367.6 253.5,369.2 254.7,369.7" fill="none" stroke="#0000ff" stroke-width="2.55" stroke-linejoin="round" clip-path="url(#cL3)"/>
<path d="M366.6,75.0 C366.8,72.2 367.1,63.7 367.7,58.3 C368.3,52.9 369.2,46.5 370.4,42.6 C371.6,38.7 372.9,36.7 374.8,34.8 C376.7,32.9 379.2,32.1 381.6,31.4 C384.0,30.6 386.4,30.4 389.4,30.3 C392.4,30.2 395.2,30.5 399.5,31.0 C403.8,31.5 408.8,32.2 415.1,33.2 C421.4,34.2 432.0,36.0 437.5,37.0 C443.0,38.0 442.9,38.4 448.0,39.3 C453.1,40.2 460.4,41.4 467.9,42.6 C475.3,43.8 480.2,44.3 492.7,46.6 C505.1,48.9 534.3,54.9 542.6,56.5" fill="none" stroke="#00ff00" stroke-width="1.5" stroke-linejoin="round" clip-path="url(#cR0)"/>
<path d="M377.0,117.6 C377.6,117.1 378.8,116.0 380.4,114.8 C382.0,113.5 384.2,111.8 386.7,110.1 C389.1,108.4 392.3,106.2 395.1,104.7 C397.9,103.2 400.6,102.0 403.4,100.9 C406.2,99.8 409.0,98.9 411.8,98.1 C414.6,97.3 417.4,96.8 420.2,96.2 C423.0,95.6 425.7,95.0 428.5,94.5 C431.3,94.0 434.1,93.4 436.9,93.0 C439.7,92.6 442.5,92.3 445.3,92.0 C448.1,91.7 450.8,91.2 453.6,90.9 C456.4,90.6 459.3,90.2 462.0,89.9 C464.7,89.6 466.0,89.4 470.0,89.1 C474.0,88.8 480.4,88.2 486.0,87.9 C491.6,87.6 497.7,87.3 503.9,87.1 C510.1,86.9 516.5,86.9 523.0,86.8 C529.5,86.7 539.3,86.6 542.6,86.6" fill="none" stroke="#ff00ff" stroke-width="1.5" stroke-linejoin="round" clip-path="url(#cR0)"/>
<path d="M366.2,120.0 C366.3,119.1 366.2,118.5 366.6,114.6 C367.0,110.6 367.8,101.6 368.6,96.3 C369.4,91.0 370.3,86.6 371.5,82.9 C372.7,79.2 374.3,76.3 376.0,73.9 C377.7,71.5 379.4,69.9 381.6,68.3 C383.8,66.7 386.4,65.4 389.4,64.3 C392.4,63.2 395.2,62.3 399.5,61.6 C403.8,60.9 408.8,60.5 415.1,60.1 C421.4,59.7 428.7,59.4 437.5,59.4 C446.3,59.4 458.7,59.8 467.9,60.1 C477.1,60.4 480.2,60.1 492.7,61.0 C505.1,61.9 534.3,64.7 542.6,65.4" fill="none" stroke="#0000ff" stroke-width="2.55" stroke-linejoin="round" clip-path="url(#cR0)"/>
<path d="M367.4,215.0 C367.4,214.1 367.3,213.8 367.7,209.3 C368.1,204.8 368.7,194.2 369.7,188.1 C370.7,181.9 371.9,177.1 373.7,172.4 C375.5,167.7 378.0,163.4 380.4,160.1 C382.8,156.8 385.3,154.5 388.3,152.3 C391.3,150.1 394.6,148.4 398.3,146.7 C402.0,145.0 405.9,143.4 410.6,142.2 C415.3,141.0 420.7,140.1 426.3,139.3 C431.9,138.5 437.3,137.9 444.2,137.3 C451.1,136.7 459.8,136.3 467.9,135.9 C476.0,135.5 480.2,135.3 492.7,135.0 C505.1,134.7 534.3,134.1 542.6,133.9" fill="none" stroke="#00ff00" stroke-width="1.5" stroke-linejoin="round" clip-path="url(#cR1)"/>
<path d="M400.0,214.0 C401.6,213.2 405.9,211.0 409.5,209.3 C413.1,207.6 417.1,205.6 421.8,203.7 C426.5,201.8 432.3,199.8 437.5,198.1 C442.7,196.4 447.6,195.0 453.1,193.7 C458.6,192.4 461.9,191.7 470.4,190.5 C478.9,189.3 491.9,187.7 503.9,186.3 C515.9,184.9 536.1,182.7 542.6,182.0" fill="none" stroke="#ff00ff" stroke-width="1.5" stroke-linejoin="round" clip-path="url(#cR1)"/>
<path d="M370.0,216.0 C370.2,214.9 370.7,212.3 371.5,209.3 C372.3,206.3 373.3,201.6 374.8,198.1 C376.3,194.6 378.1,191.3 380.4,188.1 C382.6,184.9 385.3,181.5 388.3,178.7 C391.3,175.9 394.6,173.6 398.3,171.3 C402.0,169.1 405.9,167.1 410.6,165.2 C415.3,163.3 420.7,161.5 426.3,160.1 C431.9,158.7 437.3,157.8 444.2,156.7 C451.1,155.6 459.8,154.4 467.9,153.6 C476.0,152.8 480.2,152.6 492.7,151.8 C505.1,151.0 534.3,149.4 542.6,148.9" fill="none" stroke="#0000ff" stroke-width="2.55" stroke-linejoin="round" clip-path="url(#cR1)"/>
<path d="M366.6,275.5 C366.8,273.1 367.1,266.3 367.7,260.9 C368.3,255.5 369.2,247.7 370.4,243.0 C371.6,238.3 373.1,235.7 374.8,233.0 C376.5,230.3 378.1,228.4 380.4,226.7 C382.6,225.0 385.7,223.7 388.3,222.9 C390.9,222.1 392.4,221.8 396.1,221.8 C399.8,221.8 405.6,222.4 410.6,222.9 C415.6,223.4 420.7,224.1 426.3,224.7 C431.9,225.3 437.3,225.8 444.2,226.7 C451.1,227.6 459.8,228.9 467.9,230.1 C476.0,231.3 480.2,232.0 492.7,234.1 C505.1,236.2 534.3,241.0 542.6,242.4" fill="none" stroke="#00ff00" stroke-width="1.5" stroke-linejoin="round" clip-path="url(#cR2)"/>
<path d="M384.0,307.0 C385.3,306.2 387.5,304.4 391.6,302.3 C395.7,300.2 402.6,296.7 408.4,294.5 C414.2,292.3 420.3,290.3 426.3,288.9 C432.3,287.5 437.3,286.9 444.2,286.0 C451.1,285.1 457.9,284.1 467.9,283.3 C477.8,282.5 491.4,281.6 503.9,281.1 C516.4,280.6 536.1,280.4 542.6,280.2" fill="none" stroke="#ff00ff" stroke-width="1.5" stroke-linejoin="round" clip-path="url(#cR2)"/>
<path d="M366.2,308.0 C366.3,307.1 366.2,305.7 366.6,302.3 C367.0,298.9 367.8,292.5 368.6,287.8 C369.4,283.1 370.5,278.0 371.5,274.4 C372.5,270.8 373.3,268.5 374.8,265.9 C376.3,263.3 378.1,260.9 380.4,258.7 C382.6,256.4 385.3,254.2 388.3,252.4 C391.3,250.6 394.6,249.2 398.3,248.0 C402.0,246.8 405.9,246.0 410.6,245.3 C415.3,244.7 420.7,244.3 426.3,244.1 C431.9,243.9 437.3,243.8 444.2,243.9 C451.1,244.0 461.7,244.6 467.9,244.8 C474.1,245.0 473.7,244.9 481.6,245.3 C489.5,245.8 504.9,246.6 515.1,247.5 C525.3,248.4 538.0,250.3 542.6,250.9" fill="none" stroke="#0000ff" stroke-width="2.55" stroke-linejoin="round" clip-path="url(#cR2)"/>
<path d="M370.0,402.0 C370.2,401.1 370.4,399.8 371.1,396.6 C371.8,393.4 372.9,387.6 374.3,382.6 C375.7,377.6 377.6,371.1 379.7,366.5 C381.8,361.9 384.3,358.2 386.8,354.9 C389.3,351.6 391.3,349.4 394.9,346.5 C398.5,343.6 403.7,339.9 408.3,337.4 C412.9,334.9 417.5,333.3 422.6,331.6 C427.7,329.9 432.5,328.6 438.7,327.2 C444.9,325.8 452.9,324.2 460.0,323.0 C467.1,321.8 472.4,321.0 481.6,319.9 C490.8,318.8 504.9,317.4 515.1,316.3 C525.3,315.2 538.0,313.6 542.6,313.0" fill="none" stroke="#00ff00" stroke-width="1.5" stroke-linejoin="round" clip-path="url(#cR3)"/>
<path d="M413.0,402.0 C414.6,401.1 418.6,398.8 422.6,396.6 C426.6,394.4 431.8,391.2 436.9,388.9 C442.0,386.6 447.9,384.8 453.1,383.0 C458.3,381.2 462.4,379.7 467.9,378.1 C473.4,376.5 480.0,374.8 486.0,373.3 C492.0,371.8 497.7,370.5 503.9,369.1 C510.1,367.7 516.5,366.3 523.0,365.0 C529.5,363.7 539.3,361.8 542.6,361.1" fill="none" stroke="#ff00ff" stroke-width="1.5" stroke-linejoin="round" clip-path="url(#cR3)"/>
<path d="M376.6,403.0 C377.2,401.9 378.9,398.7 380.0,396.6 C381.1,394.5 382.2,392.3 383.3,390.3 C384.4,388.3 385.6,386.3 386.8,384.4 C388.0,382.5 389.4,380.6 390.7,378.8 C392.0,377.0 393.1,375.5 394.9,373.7 C396.7,371.9 399.3,369.6 401.5,367.8 C403.7,366.0 406.0,364.4 408.3,362.9 C410.6,361.4 412.9,360.0 415.3,358.7 C417.7,357.4 420.1,356.1 422.6,354.9 C425.1,353.7 427.8,352.5 430.5,351.4 C433.2,350.3 435.6,349.4 438.7,348.3 C441.8,347.2 445.4,345.9 449.0,344.8 C452.6,343.7 456.4,342.6 460.0,341.6 C463.6,340.6 466.1,339.9 470.4,338.9 C474.7,337.9 480.4,336.7 486.0,335.7 C491.6,334.7 497.7,333.7 503.9,332.7 C510.1,331.7 516.5,330.7 523.0,329.8 C529.5,328.9 539.3,327.6 542.6,327.1" fill="none" stroke="#0000ff" stroke-width="2.55" stroke-linejoin="round" clip-path="url(#cR3)"/>
<text transform="translate(46.836 36.2) scale(1.09 1)" font-family="Liberation Serif" font-size="15.0" font-weight="normal" fill="#000" stroke="#000" stroke-width="0.25" text-anchor="end" letter-spacing="0.4">100</text>
<text transform="translate(46.836 76.8) scale(1.09 1)" font-family="Liberation Serif" font-size="15.0" font-weight="normal" fill="#000" stroke="#000" stroke-width="0.25" text-anchor="end" letter-spacing="0.4">10</text>
<text transform="translate(46.836 117.2) scale(1.09 1)" font-family="Liberation Serif" font-size="15.0" font-weight="normal" fill="#000" stroke="#000" stroke-width="0.25" text-anchor="end" letter-spacing="0.4">1</text>
<text transform="translate(46.836 146.79999999999998) scale(1.09 1)" font-family="Liberation Serif" font-size="15.0" font-weight="normal" fill="#000" stroke="#000" stroke-width="0.25" text-anchor="end" letter-spacing="0.4">100</text>
<text transform="translate(46.836 172.89999999999998) scale(1.09 1)" font-family="Liberation Serif" font-size="15.0" font-weight="normal" fill="#000" stroke="#000" stroke-width="0.25" text-anchor="end" letter-spacing="0.4">10</text>
<text transform="translate(46.836 199.1) scale(1.09 1)" font-family="Liberation Serif" font-size="15.0" font-weight="normal" fill="#000" stroke="#000" stroke-width="0.25" text-anchor="end" letter-spacing="0.4">1</text>
<text transform="translate(46.836 242.95) scale(1.09 1)" font-family="Liberation Serif" font-size="15.0" font-weight="normal" fill="#000" stroke="#000" stroke-width="0.25" text-anchor="end" letter-spacing="0.4">10</text>
<text transform="translate(46.836 271.4) scale(1.09 1)" font-family="Liberation Serif" font-size="15.0" font-weight="normal" fill="#000" stroke="#000" stroke-width="0.25" text-anchor="end" letter-spacing="0.4">1</text>
<text transform="translate(46.836 299.84999999999997) scale(1.09 1)" font-family="Liberation Serif" font-size="15.0" font-weight="normal" fill="#000" stroke="#000" stroke-width="0.25" text-anchor="end" letter-spacing="0.4">0.1</text>
<text transform="translate(345.436 35.800000000000004) scale(1.09 1)" font-family="Liberation Serif" font-size="15.0" font-weight="normal" fill="#000" stroke="#000" stroke-width="0.25" text-anchor="end" letter-spacing="0.4">100</text>
<text transform="translate(345.436 74.4) scale(1.09 1)" font-family="Liberation Serif" font-size="15.0" font-weight="normal" fill="#000" stroke="#000" stroke-width="0.25" text-anchor="end" letter-spacing="0.4">10</text>
<text transform="translate(345.436 113.0) scale(1.09 1)" font-family="Liberation Serif" font-size="15.0" font-weight="normal" fill="#000" stroke="#000" stroke-width="0.25" text-anchor="end" letter-spacing="0.4">1</text>
<text transform="translate(345.436 143.89999999999998) scale(1.09 1)" font-family="Liberation Serif" font-size="15.0" font-weight="normal" fill="#000" stroke="#000" stroke-width="0.25" text-anchor="end" letter-spacing="0.4">100</text>
<text transform="translate(345.436 166.89999999999998) scale(1.09 1)" font-family="Liberation Serif" font-size="15.0" font-weight="normal" fill="#000" stroke="#000" stroke-width="0.25" text-anchor="end" letter-spacing="0.4">10</text>
<text transform="translate(345.436 189.89999999999998) scale(1.09 1)" font-family="Liberation Serif" font-size="15.0" font-weight="normal" fill="#000" stroke="#000" stroke-width="0.25" text-anchor="end" letter-spacing="0.4">1</text>
<text transform="translate(345.436 212.89999999999998) scale(1.09 1)" font-family="Liberation Serif" font-size="15.0" font-weight="normal" fill="#000" stroke="#000" stroke-width="0.25" text-anchor="end" letter-spacing="0.4">0.1</text>
<text transform="translate(345.436 242.95) scale(1.09 1)" font-family="Liberation Serif" font-size="15.0" font-weight="normal" fill="#000" stroke="#000" stroke-width="0.25" text-anchor="end" letter-spacing="0.4">10</text>
<text transform="translate(345.436 271.4) scale(1.09 1)" font-family="Liberation Serif" font-size="15.0" font-weight="normal" fill="#000" stroke="#000" stroke-width="0.25" text-anchor="end" letter-spacing="0.4">1</text>
<text transform="translate(345.436 299.84999999999997) scale(1.09 1)" font-family="Liberation Serif" font-size="15.0" font-weight="normal" fill="#000" stroke="#000" stroke-width="0.25" text-anchor="end" letter-spacing="0.4">0.1</text>
<text transform="translate(47.800000000000004 322.2) scale(1.0 1)" font-family="Liberation Sans" font-size="15" font-weight="normal" fill="#000" stroke="#000" stroke-width="0.25" text-anchor="end" letter-spacing="1.2">9</text>
<text transform="translate(47.800000000000004 345.7) scale(1.0 1)" font-family="Liberation Sans" font-size="15" font-weight="normal" fill="#000" stroke="#000" stroke-width="0.25" text-anchor="end" letter-spacing="1.2">8.5</text>
<text transform="translate(47.800000000000004 369.15000000000003) scale(1.0 1)" font-family="Liberation Sans" font-size="15" font-weight="normal" fill="#000" stroke="#000" stroke-width="0.25" text-anchor="end" letter-spacing="1.2">8</text>
<text transform="translate(47.800000000000004 392.6) scale(1.0 1)" font-family="Liberation Sans" font-size="15" font-weight="normal" fill="#000" stroke="#000" stroke-width="0.25" text-anchor="end" letter-spacing="1.2">7.5</text>
<text transform="translate(346.4 322.2) scale(1.0 1)" font-family="Liberation Sans" font-size="15" font-weight="normal" fill="#000" stroke="#000" stroke-width="0.25" text-anchor="end" letter-spacing="1.2">9</text>
<text transform="translate(346.4 345.7) scale(1.0 1)" font-family="Liberation Sans" font-size="15" font-weight="normal" fill="#000" stroke="#000" stroke-width="0.25" text-anchor="end" letter-spacing="1.2">8.5</text>
<text transform="translate(346.4 369.15000000000003) scale(1.0 1)" font-family="Liberation Sans" font-size="15" font-weight="normal" fill="#000" stroke="#000" stroke-width="0.25" text-anchor="end" letter-spacing="1.2">8</text>
<text transform="translate(346.4 392.6) scale(1.0 1)" font-family="Liberation Sans" font-size="15" font-weight="normal" fill="#000" stroke="#000" stroke-width="0.25" text-anchor="end" letter-spacing="1.2">7.5</text>
<text x="65.05" y="412.8" font-family="Liberation Sans" font-size="15" font-weight="normal" fill="#000" stroke="#000" stroke-width="0.2" text-anchor="middle">0</text>
<text x="107.25" y="412.8" font-family="Liberation Sans" font-size="15" font-weight="normal" fill="#000" stroke="#000" stroke-width="0.2" text-anchor="middle">4</text>
<text x="149.45" y="412.8" font-family="Liberation Sans" font-size="15" font-weight="normal" fill="#000" stroke="#000" stroke-width="0.2" text-anchor="middle">8</text>
<text x="192.85" y="412.8" font-family="Liberation Sans" font-size="15" font-weight="normal" fill="#000" stroke="#000" stroke-width="0.2" text-anchor="middle" letter-spacing="0.6">12</text>
<text x="235.05" y="412.8" font-family="Liberation Sans" font-size="15" font-weight="normal" fill="#000" stroke="#000" stroke-width="0.2" text-anchor="middle" letter-spacing="0.6">16</text>
<text x="367.05" y="412.8" font-family="Liberation Sans" font-size="15" font-weight="normal" fill="#000" stroke="#000" stroke-width="0.2" text-anchor="middle">0</text>
<text x="423.262" y="412.8" font-family="Liberation Sans" font-size="15" font-weight="normal" fill="#000" stroke="#000" stroke-width="0.2" text-anchor="middle">4</text>
<text x="479.47400000000005" y="412.8" font-family="Liberation Sans" font-size="15" font-weight="normal" fill="#000" stroke="#000" stroke-width="0.2" text-anchor="middle">8</text>
<text x="536.8860000000001" y="412.8" font-family="Liberation Sans" font-size="15" font-weight="normal" fill="#000" stroke="#000" stroke-width="0.2" text-anchor="middle" letter-spacing="0.6">12</text>
<text x="116.5" y="428.1" font-family="Liberation Serif" font-size="13.2" font-weight="normal" fill="#000" stroke="#000" stroke-width="0.3" textLength="85.7" lengthAdjust="spacingAndGlyphs">Radius (kpc)</text>
<text x="420.7" y="428.1" font-family="Liberation Serif" font-size="13.2" font-weight="normal" fill="#000" stroke="#000" stroke-width="0.3" textLength="74.8" lengthAdjust="spacingAndGlyphs">Time (Gyr)</text>
<g transform="translate(10.0 91.4) rotate(-90)">
<text x="0.00" y="0.00" font-family="Liberation Serif" font-size="12.6" stroke="#000" stroke-width="0.45" textLength="7.9" lengthAdjust="spacingAndGlyphs">M</text>
<circle cx="10.90" cy="0.30" r="1.85" fill="none" stroke="#000" stroke-width="0.9"/><circle cx="10.90" cy="0.30" r="0.6" fill="#000"/>
<path d="M14.30,2.60L25.00,-8.70" stroke="#000" stroke-width="1.1" fill="none"/>
<text x="25.30" y="0.00" font-family="Liberation Serif" font-size="12.6" stroke="#000" stroke-width="0.45" textLength="11.0" lengthAdjust="spacingAndGlyphs">pc</text>
<text x="38.30" y="-3.70" font-family="Liberation Serif" font-size="8.4" stroke="#000" stroke-width="0.45" textLength="6.3" lengthAdjust="spacingAndGlyphs">2</text>
</g>
<g transform="translate(10.0 185.2) rotate(-90)">
<text x="0.00" y="0.00" font-family="Liberation Serif" font-size="12.6" stroke="#000" stroke-width="0.45" textLength="7.9" lengthAdjust="spacingAndGlyphs">M</text>
<circle cx="10.90" cy="0.30" r="1.85" fill="none" stroke="#000" stroke-width="0.9"/><circle cx="10.90" cy="0.30" r="0.6" fill="#000"/>
<path d="M14.30,2.60L25.00,-8.70" stroke="#000" stroke-width="1.1" fill="none"/>
<text x="25.30" y="0.00" font-family="Liberation Serif" font-size="12.6" stroke="#000" stroke-width="0.45" textLength="11.0" lengthAdjust="spacingAndGlyphs">pc</text>
<text x="38.30" y="-3.70" font-family="Liberation Serif" font-size="8.4" stroke="#000" stroke-width="0.45" textLength="6.3" lengthAdjust="spacingAndGlyphs">2</text>
</g>
<g transform="translate(13.9 300.2) rotate(-90)">
<text x="0.00" y="0.00" font-family="Liberation Serif" font-size="13.734" stroke="#000" stroke-width="0.45" textLength="8.611" lengthAdjust="spacingAndGlyphs">M</text>
<circle cx="11.88" cy="0.33" r="2.02" fill="none" stroke="#000" stroke-width="0.9"/><circle cx="11.88" cy="0.33" r="0.6" fill="#000"/>
<path d="M15.59,2.83L27.25,-9.48" stroke="#000" stroke-width="1.1" fill="none"/>
<text x="27.58" y="0.00" font-family="Liberation Serif" font-size="13.734" stroke="#000" stroke-width="0.45" textLength="11.99" lengthAdjust="spacingAndGlyphs">pc</text>
<text x="41.75" y="-4.03" font-family="Liberation Serif" font-size="9.156" stroke="#000" stroke-width="0.45" textLength="6.867" lengthAdjust="spacingAndGlyphs">2</text>
<path d="M50.58,2.83L62.13,-9.48" stroke="#000" stroke-width="1.1" fill="none"/>
<text x="63.11" y="0.00" font-family="Liberation Serif" font-size="13.734" stroke="#000" stroke-width="0.45" textLength="19.402" lengthAdjust="spacingAndGlyphs">Gyr</text>
</g>
<g transform="translate(13.9 391.6) rotate(-90)">
<text x="0.00" y="0.00" font-family="Liberation Serif" font-size="12.6" stroke="#000" stroke-width="0.45" textLength="32.2" lengthAdjust="spacing">log(O</text>
<path d="M32.90,2.60L43.60,-8.70" stroke="#000" stroke-width="1.1" fill="none"/>
<text x="44.30" y="0.00" font-family="Liberation Serif" font-size="12.6" stroke="#000" stroke-width="0.45" textLength="15.6" lengthAdjust="spacing">H)</text>
<text x="61.80" y="-0.30" font-family="Liberation Sans" font-size="13.0" stroke="#000" stroke-width="0.15" textLength="9.4" lengthAdjust="spacingAndGlyphs">+</text>
<text x="72.30" y="0.00" font-family="Liberation Sans" font-size="12.4" stroke="#000" stroke-width="0.15" textLength="11.4" lengthAdjust="spacingAndGlyphs">12</text>
</g>
<g transform="translate(306.9 90.5) rotate(-90)">
<text x="0.00" y="0.00" font-family="Liberation Serif" font-size="12.6" stroke="#000" stroke-width="0.45" textLength="7.9" lengthAdjust="spacingAndGlyphs">M</text>
<circle cx="10.90" cy="0.30" r="1.85" fill="none" stroke="#000" stroke-width="0.9"/><circle cx="10.90" cy="0.30" r="0.6" fill="#000"/>
<path d="M14.30,2.60L25.00,-8.70" stroke="#000" stroke-width="1.1" fill="none"/>
<text x="25.30" y="0.00" font-family="Liberation Serif" font-size="12.6" stroke="#000" stroke-width="0.45" textLength="11.0" lengthAdjust="spacingAndGlyphs">pc</text>
<text x="38.30" y="-3.70" font-family="Liberation Serif" font-size="8.4" stroke="#000" stroke-width="0.45" textLength="6.3" lengthAdjust="spacingAndGlyphs">2</text>
</g>
<g transform="translate(306.9 184.4) rotate(-90)">
<text x="0.00" y="0.00" font-family="Liberation Serif" font-size="12.6" stroke="#000" stroke-width="0.45" textLength="7.9" lengthAdjust="spacingAndGlyphs">M</text>
<circle cx="10.90" cy="0.30" r="1.85" fill="none" stroke="#000" stroke-width="0.9"/><circle cx="10.90" cy="0.30" r="0.6" fill="#000"/>
<path d="M14.30,2.60L25.00,-8.70" stroke="#000" stroke-width="1.1" fill="none"/>
<text x="25.30" y="0.00" font-family="Liberation Serif" font-size="12.6" stroke="#000" stroke-width="0.45" textLength="11.0" lengthAdjust="spacingAndGlyphs">pc</text>
<text x="38.30" y="-3.70" font-family="Liberation Serif" font-size="8.4" stroke="#000" stroke-width="0.45" textLength="6.3" lengthAdjust="spacingAndGlyphs">2</text>
</g>
<g transform="translate(312.4 300.2) rotate(-90)">
<text x="0.00" y="0.00" font-family="Liberation Serif" font-size="13.734" stroke="#000" stroke-width="0.45" textLength="8.611" lengthAdjust="spacingAndGlyphs">M</text>
<circle cx="11.88" cy="0.33" r="2.02" fill="none" stroke="#000" stroke-width="0.9"/><circle cx="11.88" cy="0.33" r="0.6" fill="#000"/>
<path d="M15.59,2.83L27.25,-9.48" stroke="#000" stroke-width="1.1" fill="none"/>
<text x="27.58" y="0.00" font-family="Liberation Serif" font-size="13.734" stroke="#000" stroke-width="0.45" textLength="11.99" lengthAdjust="spacingAndGlyphs">pc</text>
<text x="41.75" y="-4.03" font-family="Liberation Serif" font-size="9.156" stroke="#000" stroke-width="0.45" textLength="6.867" lengthAdjust="spacingAndGlyphs">2</text>
<path d="M50.58,2.83L62.13,-9.48" stroke="#000" stroke-width="1.1" fill="none"/>
<text x="63.11" y="0.00" font-family="Liberation Serif" font-size="13.734" stroke="#000" stroke-width="0.45" textLength="19.402" lengthAdjust="spacingAndGlyphs">Gyr</text>
</g>
<g transform="translate(312.4 391.6) rotate(-90)">
<text x="0.00" y="0.00" font-family="Liberation Serif" font-size="12.6" stroke="#000" stroke-width="0.45" textLength="32.2" lengthAdjust="spacing">log(O</text>
<path d="M32.90,2.60L43.60,-8.70" stroke="#000" stroke-width="1.1" fill="none"/>
<text x="44.30" y="0.00" font-family="Liberation Serif" font-size="12.6" stroke="#000" stroke-width="0.45" textLength="15.6" lengthAdjust="spacing">H)</text>
<text x="61.80" y="-0.30" font-family="Liberation Sans" font-size="13.0" stroke="#000" stroke-width="0.15" textLength="9.4" lengthAdjust="spacingAndGlyphs">+</text>
<text x="72.30" y="0.00" font-family="Liberation Sans" font-size="12.4" stroke="#000" stroke-width="0.15" textLength="11.4" lengthAdjust="spacingAndGlyphs">12</text>
</g>
<text transform="translate(213.6 42.6) scale(1.12 1)" font-family="Liberation Serif" font-size="16.5" font-weight="normal" fill="#000" stroke="#000" stroke-width="0.65" textLength="30.26785714285714" lengthAdjust="spacing">Gas</text>
<text transform="translate(192.2 136.2) scale(1.2 1)" font-family="Liberation Serif" font-size="16.5" font-weight="normal" fill="#000" stroke="#000" stroke-width="0.65" textLength="42.333333333333336" lengthAdjust="spacing">Stars</text>
<text transform="translate(202.4 226.7) scale(1.06 1)" font-family="Liberation Serif" font-size="16.5" font-weight="normal" fill="#000" stroke="#000" stroke-width="0.65" textLength="33.0188679245283" lengthAdjust="spacing">SFR</text>
<text x="207.9" y="322.2" font-family="Liberation Serif" font-size="16.5" font-weight="normal" fill="#000" stroke="#000" stroke-width="0.6">O</text>
<text x="233.6" y="322.2" font-family="Liberation Serif" font-size="16.5" font-weight="normal" fill="#000" stroke="#000" stroke-width="0.6">H</text>
<path d="M222.3,324.6L231.3,309.6" stroke="#000" stroke-width="1.6" fill="none"/>
<text transform="translate(507.8 42.2) scale(1.12 1)" font-family="Liberation Serif" font-size="16.5" font-weight="normal" fill="#000" stroke="#000" stroke-width="0.65" textLength="30.26785714285714" lengthAdjust="spacing">Gas</text>
<text transform="translate(493.6 129.4) scale(1.2 1)" font-family="Liberation Serif" font-size="16.5" font-weight="normal" fill="#000" stroke="#000" stroke-width="0.65" textLength="43.166666666666664" lengthAdjust="spacing">Stars</text>
<text transform="translate(507.8 226.7) scale(1.06 1)" font-family="Liberation Serif" font-size="16.5" font-weight="normal" fill="#000" stroke="#000" stroke-width="0.65" textLength="33.39622641509434" lengthAdjust="spacing">SFR</text>
<text x="379.3" y="322.2" font-family="Liberation Serif" font-size="16.5" font-weight="normal" fill="#000" stroke="#000" stroke-width="0.6">O</text>
<text x="405.0" y="322.2" font-family="Liberation Serif" font-size="16.5" font-weight="normal" fill="#000" stroke="#000" stroke-width="0.6">H</text>
<path d="M393.70000000000005,324.6L402.70000000000005,309.6" stroke="#000" stroke-width="1.6" fill="none"/>
<text x="115.0" y="39.3" font-family="Liberation Serif" font-size="17.3" font-weight="normal" fill="#00ff00" stroke="#00ff00" stroke-width="0.3" textLength="19.4" lengthAdjust="spacingAndGlyphs">1.5</text>
<text x="141.0" y="39.3" font-family="Liberation Serif" font-size="17.3" font-weight="normal" fill="#00ff00" stroke="#00ff00" stroke-width="0.3" textLength="23.6" lengthAdjust="spacingAndGlyphs">Gyr</text>
<text x="72.8" y="67.2" font-family="Liberation Serif" font-size="17.3" font-weight="normal" fill="#ff00ff" stroke="#ff00ff" stroke-width="0.35" textLength="11.9" lengthAdjust="spacingAndGlyphs">5.</text>
<text x="114.0" y="83.5" font-family="Liberation Serif" font-size="17.3" font-weight="normal" fill="#0000ff" stroke="#0000ff" stroke-width="0.35" textLength="19.8" lengthAdjust="spacingAndGlyphs">13.</text>
<text x="387.8" y="50" font-family="Liberation Serif" font-size="16.5" font-weight="normal" fill="#00ff00" stroke="#00ff00" stroke-width="0.3" textLength="9.6" lengthAdjust="spacingAndGlyphs">4</text>
<text x="406.8" y="50" font-family="Liberation Serif" font-size="16.5" font-weight="normal" fill="#00ff00" stroke="#00ff00" stroke-width="0.2" textLength="31.0" lengthAdjust="spacingAndGlyphs">kpc</text>
<text x="423.4" y="78.8" font-family="Liberation Serif" font-size="16.5" font-weight="normal" fill="#0000ff" stroke="#0000ff" stroke-width="0.3" textLength="9.6" lengthAdjust="spacingAndGlyphs">8</text>
<text x="442.4" y="78.8" font-family="Liberation Serif" font-size="16.5" font-weight="normal" fill="#0000ff" stroke="#0000ff" stroke-width="0.2" textLength="31.0" lengthAdjust="spacingAndGlyphs">kpc</text>
<text x="481.2" y="104.6" font-family="Liberation Serif" font-size="16.5" font-weight="normal" fill="#ff00ff" stroke="#ff00ff" stroke-width="0.3" textLength="18.2" lengthAdjust="spacingAndGlyphs">16</text>
<text x="508.6" y="104.6" font-family="Liberation Serif" font-size="16.5" font-weight="normal" fill="#ff00ff" stroke="#ff00ff" stroke-width="0.2" textLength="31.0" lengthAdjust="spacingAndGlyphs">kpc</text>
</svg>
</body></html>
